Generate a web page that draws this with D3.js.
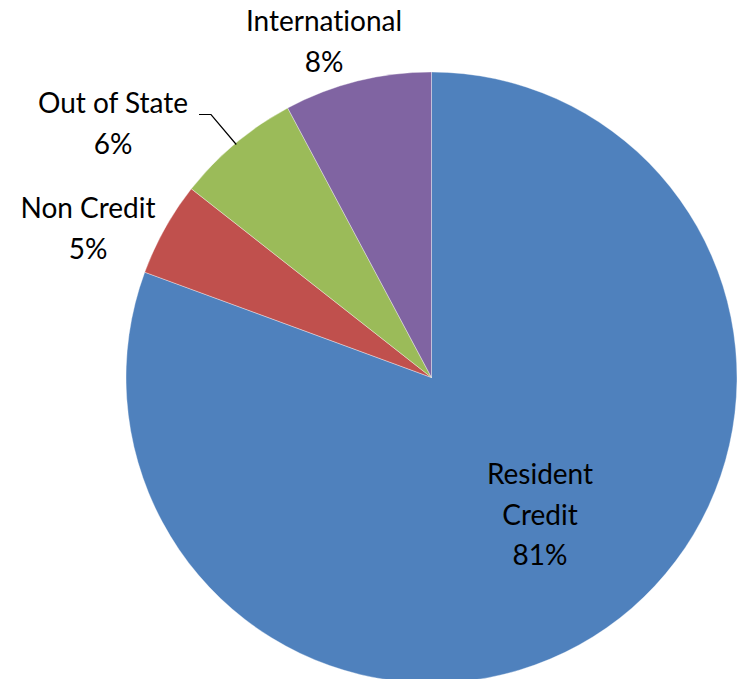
<!DOCTYPE html>
<html><head><meta charset="utf-8">
<script src="https://cdn.jsdelivr.net/npm/d3@7"></script>
<style>body{margin:0;background:#fff}svg{display:block}text{font-family:Lato,"Open Sans",sans-serif;fill:#000;font-variant-ligatures:none;font-feature-settings:"liga" 0,"clig" 0}</style>
</head><body>
<script>
const categories = ["Resident Credit", "Non Credit", "Out of State", "International"];
const values = [80.6, 5.0, 6.6, 7.8];
const colors = ["#4F81BD", "#C0504D", "#9BBB59", "#8064A2"];
const labelLines = [["Resident", "Credit"], ["Non Credit"], ["Out of State"], ["International"]];
const percentLabels = ["81%", "5%", "6%", "8%"];

const W = 743, H = 679;
const cx = 431.5, cy = 377.5, R = 305.5;
const svg = d3.select("body").append("svg").attr("width", W).attr("height", H);
const data = categories.map((c, i) => ({c, v: values[i], color: colors[i], lines: labelLines[i], pct: percentLabels[i]}));
const pie = d3.pie().sort(null).value(d => d.v);
const arcs = pie(data);
const arc = d3.arc().innerRadius(0).outerRadius(R);
const g = svg.append("g").attr("transform", `translate(${cx},${cy})`);
g.selectAll("path").data(arcs).join("path")
  .attr("d", arc).attr("fill", d => d.data.color)
  .attr("stroke", "#fff").attr("stroke-width", 0.6).attr("stroke-opacity", 0.6);

const labelPos = [[540, 484], [88, 218], [113, 113], [324, 31]];
const lh = 40.5;
arcs.forEach((a, i) => {
  const [x, y] = labelPos[i];
  const lines = a.data.lines.concat([a.data.pct]);
  const t = svg.append("text").attr("text-anchor", "middle").attr("font-size", 28);
  lines.forEach((l, j) => t.append("tspan").attr("x", x).attr("y", y + j * lh).text(l));
});
const mid = (arcs[2].startAngle + arcs[2].endAngle) / 2;
const ex = cx + R * Math.sin(mid) * 0.995, ey = cy - R * Math.cos(mid) * 0.995;
svg.append("path").attr("d", `M199,114.5 L211,114.5 L${ex},${ey}`)
  .attr("fill", "none").attr("stroke", "#000").attr("stroke-width", 1.2);
</script>
</body></html>
